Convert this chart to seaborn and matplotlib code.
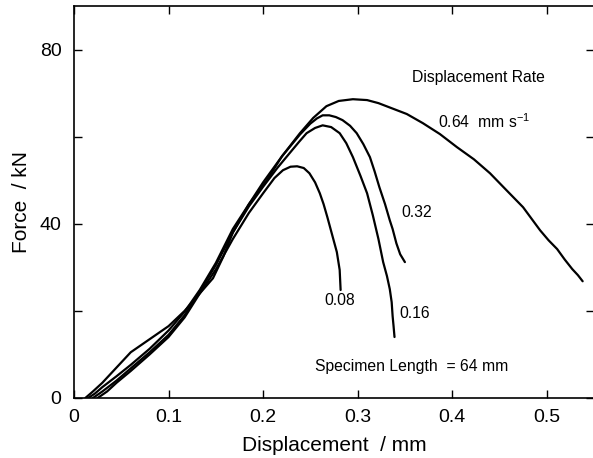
import matplotlib
matplotlib.use("Agg")
import matplotlib.pyplot as plt
import seaborn as sns
import pandas as pd
from matplotlib.ticker import FixedLocator

# ---- data ----
x_008 = [0.012, 0.02, 0.03, 0.045, 0.06, 0.08, 0.1, 0.117, 0.133, 0.15, 0.168, 0.185, 0.2, 0.212, 0.221, 0.229, 0.236, 0.243, 0.249, 0.255, 0.26, 0.264, 0.268, 0.273, 0.278, 0.281, 0.282]
y_008 = [0.0, 1.5, 3.5, 7.0, 10.5, 13.5, 16.5, 20.0, 24.0, 29.5, 36.5, 42.5, 47.0, 50.5, 52.3, 53.1, 53.2, 52.8, 51.6, 49.5, 47.0, 44.5, 41.5, 37.5, 33.5, 29.4, 24.8]

x_016 = [0.02, 0.03, 0.045, 0.06, 0.08, 0.1, 0.117, 0.133, 0.15, 0.168, 0.185, 0.2, 0.215, 0.228, 0.238, 0.246, 0.255, 0.263, 0.272, 0.281, 0.288, 0.295, 0.303, 0.31, 0.316, 0.322, 0.327, 0.331, 0.334, 0.336, 0.337, 0.338, 0.339]
y_016 = [0.0, 1.5, 4.0, 6.8, 10.5, 14.5, 19.0, 24.5, 30.5, 38.0, 44.0, 48.5, 52.8, 56.2, 58.8, 60.8, 62.0, 62.6, 62.2, 60.8, 58.5, 55.3, 51.0, 47.0, 42.0, 36.5, 31.2, 28.0, 25.0, 22.0, 18.8, 16.5, 14.0]

x_032 = [0.025, 0.035, 0.045, 0.06, 0.08, 0.1, 0.117, 0.133, 0.147, 0.158, 0.168, 0.185, 0.2, 0.22, 0.239, 0.25, 0.257, 0.263, 0.27, 0.277, 0.284, 0.292, 0.299, 0.306, 0.313, 0.318, 0.323, 0.329, 0.334, 0.337, 0.341, 0.345, 0.35]
y_032 = [0.0, 1.5, 3.5, 6.2, 10.0, 14.0, 18.5, 24.0, 27.5, 32.5, 38.0, 44.5, 49.5, 55.5, 60.5, 63.0, 64.2, 64.9, 64.9, 64.5, 63.8, 62.5, 60.8, 58.3, 55.3, 52.0, 48.4, 44.5, 40.8, 38.8, 35.5, 33.0, 31.2]

x_064 = [0.015, 0.022, 0.03, 0.045, 0.06, 0.08, 0.1, 0.117, 0.133, 0.15, 0.168, 0.185, 0.204, 0.22, 0.239, 0.253, 0.267, 0.28, 0.295, 0.31, 0.322, 0.334, 0.352, 0.369, 0.387, 0.405, 0.423, 0.44, 0.457, 0.475, 0.493, 0.502, 0.511, 0.519, 0.527, 0.533, 0.538]
y_064 = [0.0, 1.0, 2.5, 5.0, 7.6, 11.3, 15.5, 19.8, 24.8, 31.0, 38.8, 44.5, 50.0, 55.5, 60.8, 64.3, 67.0, 68.2, 68.6, 68.4, 67.7, 66.7, 65.2, 63.1, 60.6, 57.6, 54.8, 51.6, 47.8, 43.8, 38.5, 36.2, 34.2, 31.8, 29.6, 28.2, 26.8]

rates = ["0.08", "0.16", "0.32", "0.64"]
x_ticks = [0, 0.1, 0.2, 0.3, 0.4, 0.5]
x_tick_labels = ["0", "0.1", "0.2", "0.3", "0.4", "0.5"]
y_ticks = [0, 40, 80]
y_minor_ticks = [20, 60]

frames = []
for r, xs, ys in zip(rates, [x_008, x_016, x_032, x_064], [y_008, y_016, y_032, y_064]):
    frames.append(pd.DataFrame({"disp": xs, "force": ys, "rate": r}))
df = pd.concat(frames, ignore_index=True)

# ---- figure ----
sns.set_style("ticks")
plt.rcParams["font.family"] = ["Liberation Sans", "DejaVu Sans"]
plt.rcParams["text.color"] = "black"
plt.rcParams["axes.labelcolor"] = "black"

fig = plt.figure(figsize=(5.93, 4.58), dpi=100)
ax = fig.add_axes([74 / 593, 60 / 458, 520 / 593, 392 / 458])

for r in rates:
    sub = df[df["rate"] == r]
    sns.lineplot(data=sub, x="disp", y="force", sort=False, estimator=None,
                 color="black", linewidth=1.6, ax=ax, legend=False)

ax.set_xlim(0, 0.55)
ax.set_ylim(0, 90)
ax.xaxis.set_major_locator(FixedLocator(x_ticks))
ax.set_xticklabels(x_tick_labels)
ax.yaxis.set_major_locator(FixedLocator(y_ticks))
ax.yaxis.set_minor_locator(FixedLocator(y_minor_ticks))
ax.tick_params(which="both", direction="in", top=True, right=True, length=6, width=1.0,
               labelsize=14, colors="black")
ax.tick_params(axis="x", pad=8)
ax.tick_params(axis="y", pad=9)
for s in ax.spines.values():
    s.set_linewidth(1.2)
    s.set_visible(True)
    s.set_color("black")

ax.set_xlabel("Displacement  / mm", fontsize=15, labelpad=7, color="black")
ax.set_ylabel("Force  / kN", fontsize=15, labelpad=6, color="black")

fs = 11.3
ax.text(0.428, 73.5, "Displacement Rate", fontsize=fs, ha="center", va="center")
ax.text(0.385, 63.5, "0.64  mm s$^{\\mathregular{-1}}$", fontsize=fs, ha="left", va="center")
ax.text(0.346, 42.5, "0.32", fontsize=fs, ha="left", va="center")
ax.text(0.265, 22.3, "0.08", fontsize=fs, ha="left", va="center")
ax.text(0.344, 19.3, "0.16", fontsize=fs, ha="left", va="center")
ax.text(0.255, 7.3, "Specimen Length  = 64 mm", fontsize=fs, ha="left", va="center")

fig.savefig("out.png", dpi=100)
